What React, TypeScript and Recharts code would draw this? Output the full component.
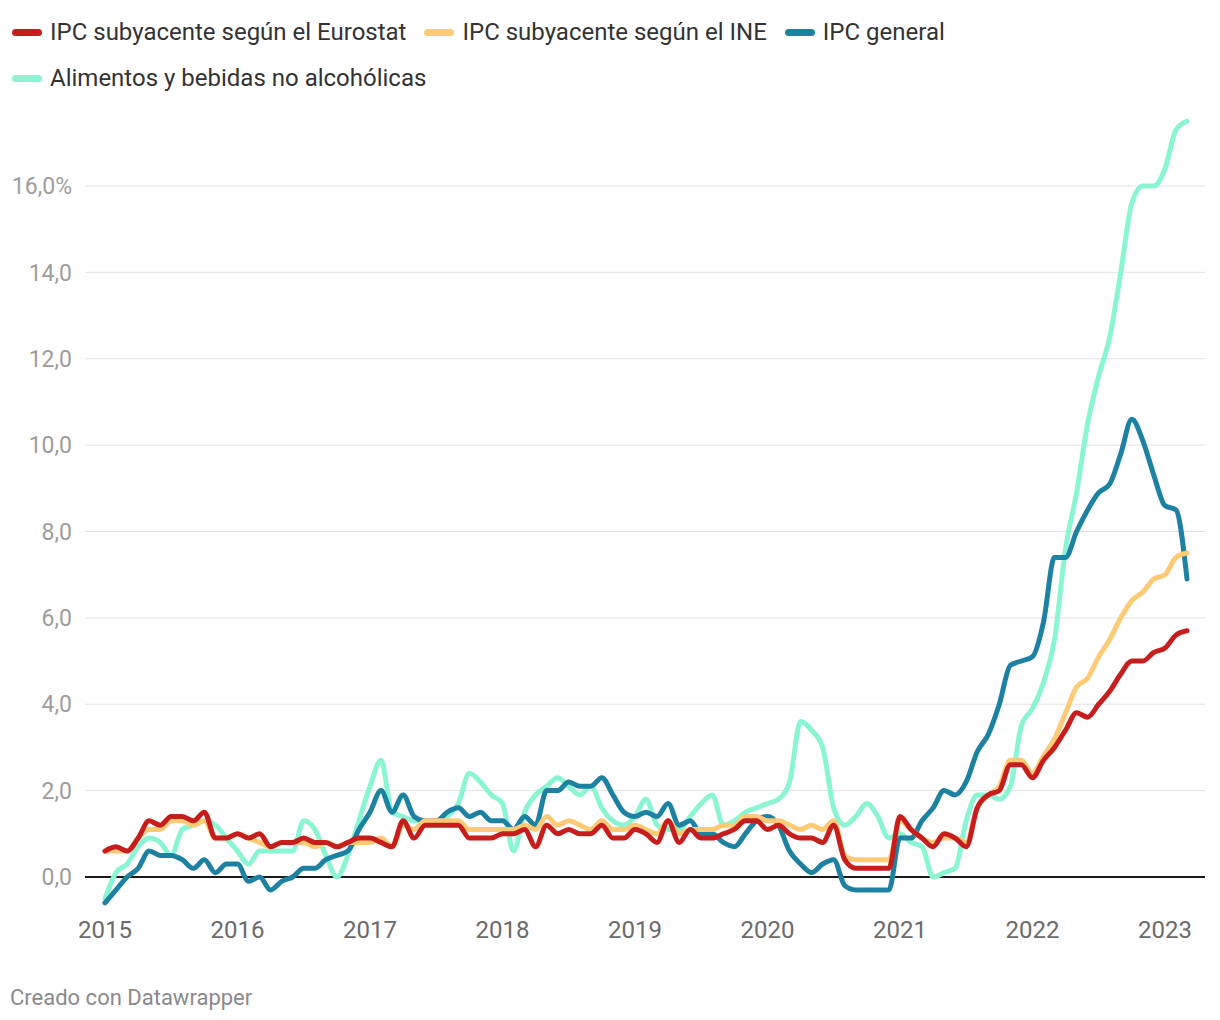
import { LineChart, Line, XAxis, YAxis, ReferenceLine } from 'recharts';

// monthly, Jan 2015 .. Mar 2023
const startYear = 2015;

const yearTicks = [2015, 2016, 2017, 2018, 2019, 2020, 2021, 2022, 2023];
const valueTicks = [0, 2, 4, 6, 8, 10, 12, 14, 16];

const eurostat = [
  0.6, 0.7, 0.6, 0.9, 1.3, 1.2, 1.4, 1.4, 1.3, 1.5, 0.9, 0.9,
  1.0, 0.9, 1.0, 0.7, 0.8, 0.8, 0.9, 0.8, 0.8, 0.7, 0.8, 0.9,
  0.9, 0.8, 0.7, 1.3, 0.9, 1.2, 1.2, 1.2, 1.2, 0.9, 0.9, 0.9,
  1.0, 1.0, 1.1, 0.7, 1.2, 1.0, 1.1, 1.0, 1.0, 1.2, 0.9, 0.9,
  1.1, 1.0, 0.8, 1.3, 0.8, 1.1, 0.9, 0.9, 1.0, 1.1, 1.3, 1.3,
  1.1, 1.2, 1.0, 0.9, 0.9, 0.8, 1.2, 0.4, 0.2, 0.2, 0.2, 0.2,
  1.4, 1.1, 0.9, 0.7, 1.0, 0.9, 0.7, 1.6, 1.9, 2.0, 2.6, 2.6,
  2.3, 2.7, 3.0, 3.4, 3.8, 3.7, 4.0, 4.3, 4.7, 5.0, 5.0, 5.2,
  5.3, 5.6, 5.7,
];

const ine = [
  0.6, 0.6, 0.6, 0.9, 1.1, 1.1, 1.3, 1.3, 1.2, 1.3, 0.9, 0.9,
  1.0, 0.9, 0.8, 0.7, 0.8, 0.8, 0.8, 0.7, 0.8, 0.7, 0.8, 0.8,
  0.8, 0.9, 0.7, 1.2, 1.1, 1.3, 1.3, 1.3, 1.3, 1.1, 1.1, 1.1,
  1.1, 1.1, 1.2, 1.1, 1.4, 1.2, 1.3, 1.2, 1.1, 1.3, 1.1, 1.1,
  1.2, 1.1, 1.0, 1.3, 1.0, 1.1, 1.1, 1.1, 1.2, 1.2, 1.4, 1.4,
  1.3, 1.3, 1.2, 1.1, 1.2, 1.1, 1.3, 0.5, 0.4, 0.4, 0.4, 0.4,
  1.3, 1.1, 0.9, 0.8, 0.9, 0.9, 0.8, 1.6, 1.9, 2.1, 2.7, 2.7,
  2.4, 2.8, 3.2, 3.8, 4.4, 4.6, 5.1, 5.5, 6.0, 6.4, 6.6, 6.9,
  7.0, 7.4, 7.5,
];

const general = [
  -0.6, -0.3, 0.0, 0.2, 0.6, 0.5, 0.5, 0.4, 0.2, 0.4, 0.1, 0.3,
  0.3, -0.1, 0.0, -0.3, -0.1, 0.0, 0.2, 0.2, 0.4, 0.5, 0.6, 1.1,
  1.5, 2.0, 1.5, 1.9, 1.4, 1.3, 1.3, 1.5, 1.6, 1.4, 1.5, 1.3,
  1.3, 1.1, 1.4, 1.2, 2.0, 2.0, 2.2, 2.1, 2.1, 2.3, 1.9, 1.5,
  1.4, 1.5, 1.4, 1.7, 1.2, 1.3, 1.0, 1.0, 0.8, 0.7, 1.0, 1.3,
  1.4, 1.2, 0.6, 0.3, 0.1, 0.3, 0.4, -0.2, -0.3, -0.3, -0.3, -0.3,
  0.9, 0.9, 1.3, 1.6, 2.0, 1.9, 2.2, 2.9, 3.3, 4.0, 4.9, 5.0,
  5.1, 5.9, 7.4, 7.4, 8.0, 8.5, 8.9, 9.1, 9.8, 10.6, 10.1, 9.3,
  8.6, 8.5, 6.9,
];

const food = [
  -0.5, 0.1, 0.3, 0.7, 0.9, 0.8, 0.5, 1.1, 1.2, 1.3, 1.2, 0.9,
  0.6, 0.3, 0.6, 0.6, 0.6, 0.6, 1.3, 1.1, 0.5, 0.0, 0.5, 1.3,
  2.1, 2.7, 1.5, 1.4, 1.3, 1.3, 1.3, 1.4, 1.7, 2.4, 2.2, 1.9,
  1.7, 0.6, 1.5, 1.9, 2.1, 2.3, 2.1, 1.9, 2.1, 1.6, 1.3, 1.2,
  1.4, 1.8, 1.2, 1.1, 1.1, 1.4, 1.7, 1.9, 1.2, 1.3, 1.5, 1.6,
  1.7, 1.8, 2.2, 3.6, 3.4, 3.0, 1.6, 1.2, 1.4, 1.7, 1.4, 0.9,
  1.0, 0.8, 0.7, 0.0, 0.1, 0.2, 1.3, 1.9, 1.9, 1.8, 2.1, 3.5,
  3.9, 4.5, 5.5, 7.6, 8.9, 10.5, 11.6, 12.5, 14.0, 15.6, 16.0, 16.0,
  16.4, 17.3, 17.5,
];

const series = [
  { key: 'eurostat', name: 'IPC subyacente según el Eurostat', color: '#c71e1d', values: eurostat },
  { key: 'ine', name: 'IPC subyacente según el INE', color: '#ffca76', values: ine },
  { key: 'general', name: 'IPC general', color: '#1d81a2', values: general },
  { key: 'food', name: 'Alimentos y bebidas no alcohólicas', color: '#8af5d2', values: food },
];

const data = eurostat.map((_, i) => {
  const row: Record<string, number> = { t: startYear + i / 12 };
  series.forEach((s) => {
    row[s.key] = s.values[i];
  });
  return row;
});

const fmtValue = (v: number) => {
  const s = v.toFixed(1).replace('.', ',');
  return v === 16 ? s + '%' : s;
};

export default function App() {
  const font = 'Roboto, sans-serif';
  // draw order: bottom first
  const drawOrder = ['food', 'general', 'ine', 'eurostat'];

  return (
    <div style={{ position: 'absolute', left: 0, top: 0, width: 1220, height: 1020, background: '#fff', fontFamily: font }}>
      <div
        style={{
          position: 'absolute',
          left: 12,
          top: 16,
          width: 1000,
          display: 'flex',
          flexWrap: 'wrap',
          columnGap: 18,
          rowGap: 14,
        }}
      >
        {series.map((s) => (
          <div key={s.key} style={{ display: 'flex', alignItems: 'center', height: 32 }}>
            <span style={{ display: 'inline-block', width: 30, height: 7, borderRadius: 4, background: s.color, marginRight: 8 }} />
            <span style={{ fontSize: 24, color: '#333', whiteSpace: 'nowrap' }}>{s.name}</span>
          </div>
        ))}
      </div>

      <div style={{ position: 'absolute', left: 0, top: 0 }}>
        <LineChart width={1220} height={1020} data={data} margin={{ top: 116.9, right: 15, bottom: 72.8, left: 0 }}>
          {valueTicks.map((v) => (
            <ReferenceLine key={'g' + v} y={v} stroke="#e2e2e2" strokeWidth={1} />
          ))}
          <XAxis
            type="number"
            dataKey="t"
            domain={[startYear, startYear + 98 / 12]}
            ticks={yearTicks}
            interval={0}
            padding={{ left: 20, right: 18 }}
            axisLine={false}
            tickLine={false}
            tickSize={0}
            tickMargin={14}
            height={40}
            tick={{ fill: '#6b6b6b', fontSize: 24, fontFamily: font }}
            tickFormatter={(v: number) => String(Math.round(v))}
          />
          <YAxis
            type="number"
            domain={[-0.7, 17.6]}
            ticks={valueTicks}
            interval={0}
            width={85}
            axisLine={false}
            tickLine={false}
            tickSize={0}
            tickMargin={13}
            tick={{ fill: '#9d9d9d', fontSize: 23, fontFamily: font }}
            tickFormatter={fmtValue}
          />
          <ReferenceLine y={0} stroke="#1a1a1a" strokeWidth={2} />
          {drawOrder.map((k) => {
            const s = series.find((x) => x.key === k)!;
            return (
              <Line
                key={k}
                type="monotone"
                dataKey={k}
                name={s.name}
                stroke={s.color}
                strokeWidth={5}
                strokeLinecap="round"
                strokeLinejoin="round"
                dot={false}
                activeDot={false}
                isAnimationActive={false}
              />
            );
          })}
        </LineChart>
      </div>

      <div style={{ position: 'absolute', left: 10, top: 985, fontSize: 22, color: '#8a8a8a' }}>Creado con Datawrapper</div>
    </div>
  );
}
